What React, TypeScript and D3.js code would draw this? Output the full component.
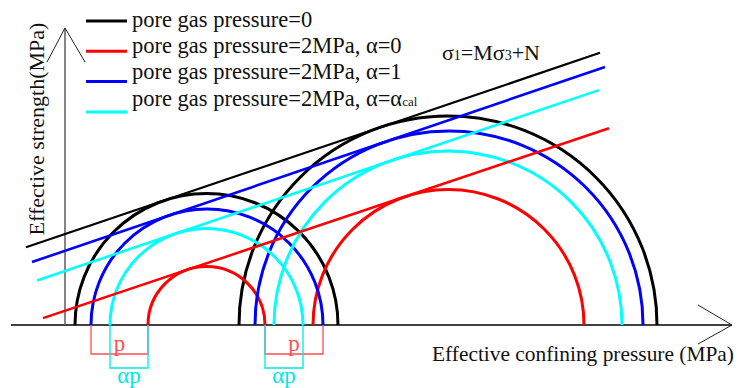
import { useEffect, useRef } from "react";
import * as d3 from "d3";

// legend entries, in legend order
const seriesLabels = [
  "pore gas pressure=0",
  "pore gas pressure=2MPa, α=0",
  "pore gas pressure=2MPa, α=1",
  "pore gas pressure=2MPa, α=α",
];
const seriesSubs = ["", "", "", "cal"];
const seriesColors = ["#000000", "#ff0000", "#0000ff", "#00ffff"];

// effective sigma3 / sigma1 of the two tests (MPa, schematic)
const sigma3Black = [1.0, 17.4];
const sigma1Black = [27.3, 59.2];
const sigma3Red = [8.3, 24.8];
const sigma1Red = [20.0, 51.9];
const sigma3Blue = [2.6, 19.0];
const sigma1Blue = [25.8, 57.8];
const sigma3Cyan = [4.5, 20.9];
const sigma1Cyan = [23.8, 55.7];

// sigma range over which each strength line is drawn
const lineRangeBlack = [-3.9, 53.5];
const lineRangeRed = [-2.2, 54.4];
const lineRangeBlue = [-3.3, 54.0];
const lineRangeCyan = [-2.8, 53.4];

const xLabel = "Effective confining pressure (MPa)";
const yLabel = "Effective strength(MPa)";

function App() {
  const svgRef = useRef<SVGSVGElement>(null);

  useEffect(() => {
    if (!svgRef.current) return;
    const svg = d3.select(svgRef.current);
    svg.selectAll("*").remove();

    const width = 739;
    const height = 388;
    svg.attr("width", width).attr("height", height);

    const font = "'Times New Roman', Times, 'Liberation Serif', serif";

    // same px per unit on both axes so the circles stay round
    const x = d3.scaleLinear().domain([-5.4, 66.7]).range([11, 732]);
    const y = d3.scaleLinear().domain([0, 29.7]).range([325, 28]);
    const k = x(1) - x(0);

    const series = [
      { s3: sigma3Black, s1: sigma1Black, range: lineRangeBlack, color: seriesColors[0], lw: 2.2 },
      { s3: sigma3Red, s1: sigma1Red, range: lineRangeRed, color: seriesColors[1], lw: 2.5 },
      { s3: sigma3Blue, s1: sigma1Blue, range: lineRangeBlue, color: seriesColors[2], lw: 2.6 },
      { s3: sigma3Cyan, s1: sigma1Cyan, range: lineRangeCyan, color: seriesColors[3], lw: 2.6 },
    ];

    // axes
    const x0 = x.domain()[0];
    const xEnd = x.domain()[1];
    svg.append("line")
      .attr("x1", x(x0)).attr("x2", x(xEnd))
      .attr("y1", y(0)).attr("y2", y(0))
      .attr("stroke", "#000").attr("stroke-width", 1.4);
    svg.append("path")
      .attr("d", `M${x(xEnd) - 34},${y(0) - 20}L${x(xEnd)},${y(0)}L${x(xEnd) - 34},${y(0) + 19}`)
      .attr("fill", "none").attr("stroke", "#222").attr("stroke-width", 1);

    const yTop = y.domain()[1];
    svg.append("line")
      .attr("x1", x(0)).attr("x2", x(0))
      .attr("y1", y(0)).attr("y2", y(yTop))
      .attr("stroke", "#666").attr("stroke-width", 1.6);
    svg.append("path")
      .attr("d", `M${x(0) - 18},${y(yTop) + 34}L${x(0)},${y(yTop)}L${x(0) + 20},${y(yTop) + 34}`)
      .attr("fill", "none").attr("stroke", "#222").attr("stroke-width", 1);

    // Mohr semicircles
    const g = svg.append("g");
    series.forEach((s) => {
      s.s3.forEach((lo, i) => {
        const hi = s.s1[i];
        const cx = x((lo + hi) / 2);
        const r = ((hi - lo) / 2) * k;
        const p = d3.path();
        p.moveTo(cx - r, y(0));
        p.arc(cx, y(0), r, Math.PI, 2 * Math.PI);
        g.append("path")
          .attr("d", p.toString())
          .attr("fill", "none")
          .attr("stroke", s.color)
          .attr("stroke-width", 3);
      });
    });

    // strength lines: common tangent of the two circles of a series
    series.forEach((s) => {
      const c1 = (s.s3[0] + s.s1[0]) / 2;
      const c2 = (s.s3[1] + s.s1[1]) / 2;
      const r1 = (s.s1[0] - s.s3[0]) / 2;
      const r2 = (s.s1[1] - s.s3[1]) / 2;
      const sin = (r2 - r1) / (c2 - c1);
      const tan = sin / Math.sqrt(1 - sin * sin);
      const origin = c1 - r1 / sin;
      const tau = (v: number) => (v - origin) * tan;
      const line = d3.line<number>().x((v) => x(v)).y((v) => y(tau(v)));
      g.append("path")
        .attr("d", line(s.range))
        .attr("fill", "none")
        .attr("stroke", s.color)
        .attr("stroke-width", s.lw);
    });

    // p / alpha*p dimension brackets
    const bracket = (a: number, b: number, drop: number, color: string, label: string, ty: number) => {
      const yb = y(0) + drop;
      svg.append("path")
        .attr("d", `M${x(a)},${y(0)}V${yb}H${x(b)}V${y(0)}`)
        .attr("fill", "none").attr("stroke", color).attr("stroke-width", 1.3);
      svg.append("text")
        .attr("x", (x(a) + x(b)) / 2).attr("y", y(0) + ty)
        .attr("text-anchor", "middle")
        .style("font-family", font).style("font-size", "23px")
        .attr("fill", color)
        .text(label);
    };
    bracket(sigma3Blue[0], sigma3Red[0], 29, "#ff5050", "p", 26);
    bracket(sigma3Cyan[0], sigma3Red[0], 43, "#00e8e8", "αp", 58);
    bracket(sigma1Red[0], sigma1Blue[0], 29, "#ff5050", "p", 26);
    bracket(sigma1Red[0], sigma1Cyan[0], 43, "#00e8e8", "αp", 58);

    // legend
    const legend = svg.append("g");
    seriesLabels.forEach((label, i) => {
      legend.append("line")
        .attr("x1", 86).attr("x2", 127)
        .attr("y1", 21 + i * 30.3).attr("y2", 21 + i * 30.3)
        .attr("stroke", seriesColors[i]).attr("stroke-width", 3);
      const t = legend.append("text")
        .attr("x", 132).attr("y", 27 + i * 26.2)
        .style("font-family", font).style("font-size", "22.5px")
        .attr("fill", "#111");
      t.append("tspan").text(label);
      if (seriesSubs[i]) t.append("tspan").style("font-size", "13px").text(seriesSubs[i]);
    });

    // formula
    const f = svg.append("text")
      .attr("x", 442).attr("y", 60)
      .style("font-family", font).style("font-size", "22px").attr("fill", "#111");
    f.append("tspan").text("σ");
    f.append("tspan").style("font-size", "14px").text("1");
    f.append("tspan").text("=Mσ");
    f.append("tspan").style("font-size", "14px").text("3");
    f.append("tspan").text("+N");

    // axis labels
    svg.append("text")
      .attr("x", 432).attr("y", 361)
      .style("font-family", font).style("font-size", "21.4px").attr("fill", "#111")
      .text(xLabel);
    svg.append("text")
      .attr("transform", "translate(44,129) rotate(-90)")
      .attr("text-anchor", "middle")
      .style("font-family", font).style("font-size", "22px").attr("fill", "#111")
      .text(yLabel);
  }, []);

  return <svg ref={svgRef} style={{ position: "absolute", left: 0, top: 0 }}></svg>;
}

export default App;
